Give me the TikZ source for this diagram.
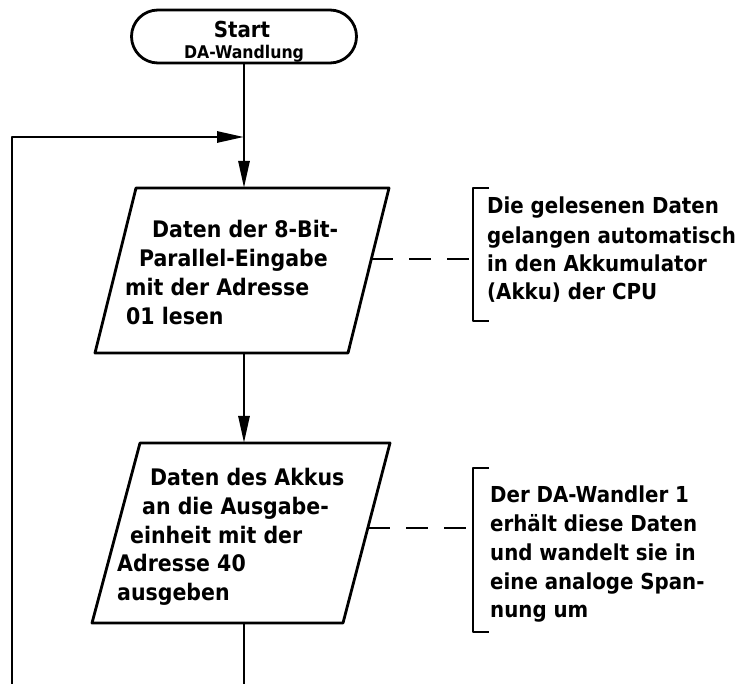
\documentclass[tikz,border=0pt]{standalone}
\usepackage{fontspec}
\usetikzlibrary{arrows.meta,shapes.misc}
\newfontfamily\din{DejaVu Sans Condensed}
\begin{document}
\begin{tikzpicture}[x=1pt,y=-1pt,line join=round,
  ln/.style={line width=2.8pt},
  txt/.style={font=\din\bfseries\fontsize{22.8}{26}\selectfont, anchor=base west, inner sep=0pt},
  ann/.style={font=\din\bfseries\fontsize{22}{26}\selectfont, anchor=base west, inner sep=0pt},
  arr/.style={ln,-{Triangle[length=27pt,width=11pt]}},
  dsh/.style={line width=2.4pt, dash pattern=on 22pt off 16pt},
  brk/.style={line width=2.6pt},
  term/.style={draw, ln, rounded rectangle, minimum width=225pt, minimum height=53pt, inner sep=0pt}]
\useasboundingbox (0,0) rectangle (739,684);
% start terminal
\node[term] (start) at (244,36.5) {};
\node[font=\din\bfseries\fontsize{22}{26}\selectfont, anchor=base, inner sep=0pt] (st1) at (242,37.5) {Start};
\node[font=\din\bfseries\fontsize{17.5}{20}\selectfont, anchor=base, inner sep=0pt] (st2) at (244,59) {DA-Wandlung};
% coordinates
\coordinate (p1tl) at (136,188); \coordinate (p1tr) at (389,188);
\coordinate (p1br) at (348,353); \coordinate (p1bl) at (95,353);
\coordinate (p2tl) at (140,443); \coordinate (p2tr) at (390,443);
\coordinate (p2br) at (343,623); \coordinate (p2bl) at (92,623);
\coordinate (p1top) at (244,188); \coordinate (p1bot) at (244,353);
\coordinate (p2top) at (244,443); \coordinate (p2bot) at (244,623);
\coordinate (p1right) at (371,259); \coordinate (p2right) at (368,528);
\coordinate (b1) at (473,259); \coordinate (b2) at (473,528);
\coordinate (outend) at (244,684);
\coordinate (loopbot) at (12,684); \coordinate (loopcorner) at (12,137);
\coordinate (loopin) at (244,137);
% shapes
\draw[ln] (p1tl) -- (p1tr) -- (p1br) -- (p1bl) -- cycle;
\draw[ln] (p2tl) -- (p2tr) -- (p2br) -- (p2bl) -- cycle;
% connectors
\draw[arr] (start.south) -- (p1top);
\draw[arr] (p1bot) -- (p2top);
\draw[ln] (p2bot) -- (outend);
\draw[arr] (loopbot) -- (loopcorner) -- (loopin);
\draw[dsh] (p1right) -- (b1);
\draw[dsh] (p2right) -- (b2);
% brackets
\draw[brk] (489,188) -- (473,188) -- (473,321) -- (489,321);
\draw[brk] (489,468) -- (473,468) -- (473,632) -- (489,632);
% texts in boxes
\node[txt] (a1) at (152,238) {Daten der 8-Bit-};
\node[txt] (a2) at (139,267) {Parallel-Eingabe};
\node[txt] (a3) at (125,296) {mit der Adresse};
\node[txt] (a4) at (126,325) {01 lesen};
\node[txt] (b1t) at (150,485) {Daten des Akkus};
\node[txt] (b2t) at (142,514) {an die Ausgabe-};
\node[txt] (b3t) at (130,543) {einheit mit der};
\node[txt] (b4t) at (117,571) {Adresse 40};
\node[txt] (b5t) at (117,600) {ausgeben};
% annotations
\node[ann] (c1) at (487,214) {Die gelesenen Daten};
\node[ann] (c2) at (487,244) {gelangen automatisch};
\node[ann] (c3) at (487,272) {in den Akkumulator};
\node[ann] (c4) at (487,300) {(Akku) der CPU};
\node[ann] (d1) at (490,502) {Der DA-Wandler 1};
\node[ann] (d2) at (490,531) {erhält diese Daten};
\node[ann] (d3) at (490,560) {und wandelt sie in};
\node[ann] (d4) at (490,589) {eine analoge Span-};
\node[ann] (d5) at (490,617) {nung um};
\end{tikzpicture}
\end{document}
